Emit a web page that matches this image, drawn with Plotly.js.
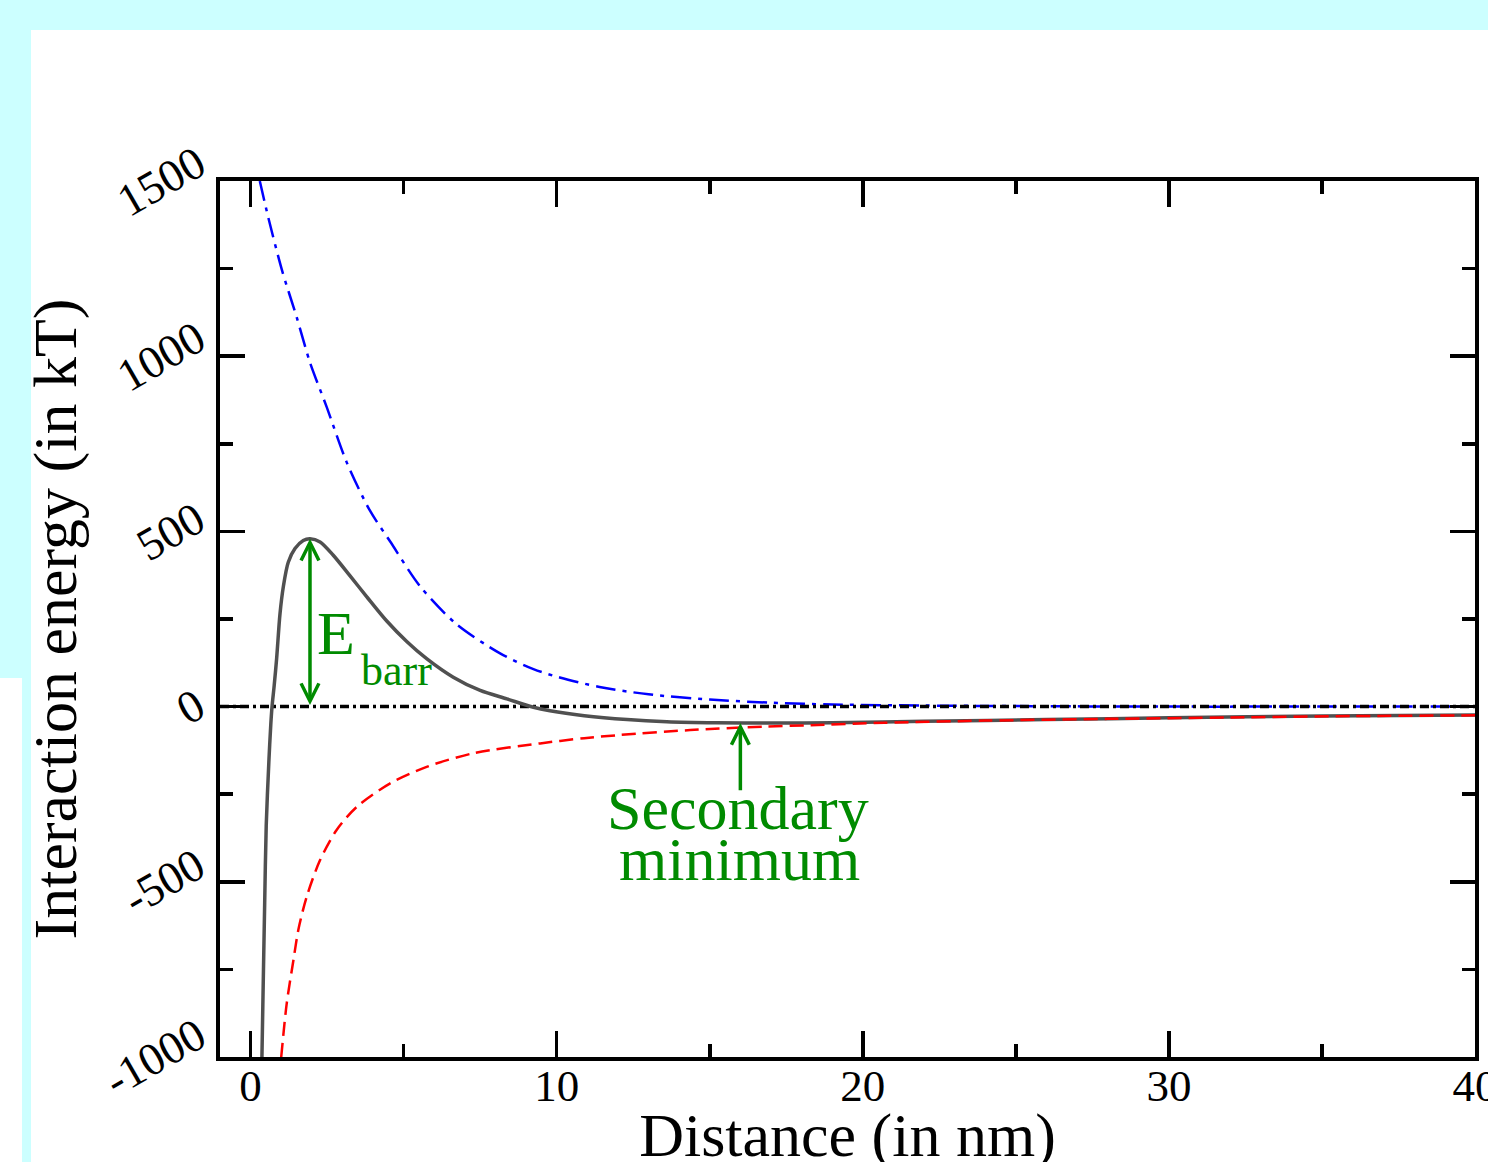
<!DOCTYPE html>
<html>
<head>
<meta charset="utf-8">
<script src="https://cdn.plot.ly/plotly-3.0.1.min.js"></script>
<style>
  html, body { margin: 0; padding: 0; background: #ffffff; }
  #wrap { position: relative; width: 1488px; height: 1162px; overflow: hidden; background: #ffffff; }
  .band { position: absolute; background: #ccffff; }
  #chart { position: absolute; left: 0; top: 0; width: 1488px; height: 1170px; }
</style>
</head>
<body>
<div id="wrap">
  <div class="band" style="left:0;top:0;width:1488px;height:30px;"></div>
  <div class="band" style="left:0;top:0;width:31px;height:678px;"></div>
  <div class="band" style="left:22px;top:678px;width:9px;height:484px;"></div>
  <div id="chart"></div>
</div>
<script>
// ---- data ----
const repulsiveX = [0.3, 0.58, 1.02, 1.51, 1.94, 2.49, 3.14, 3.9, 4.56, 5.54, 6.73, 8.15, 9.24, 10.1, 11.4, 13.0, 15.0, 17.0, 19.0, 22, 26, 30, 35, 40];
const repulsiveY = [1500, 1395, 1247, 1110, 982, 854, 697, 559, 471, 343, 235, 152, 107, 83, 56, 35, 20, 11, 6, 3, 1, 0, 0, 0];

const attractiveX = [1.0, 1.18, 1.4, 1.56, 1.83, 2.27, 2.81, 3.47, 4.56, 5.75, 7.28, 9.46, 10.9, 12.07, 14.36, 16.75, 18.3, 20.7, 24, 28, 32, 36, 40];
const attractiveY = [-1000, -847, -723, -637, -543, -438, -352, -286, -219, -172, -133, -105, -90, -81, -67, -57, -53, -46, -40, -35, -31, -27, -25];

const totalX = [0.37, 0.40, 0.46, 0.51, 0.60, 0.66, 0.70, 0.77, 0.85, 0.96, 1.07, 1.23, 1.45, 1.72, 1.94, 2.27, 2.7, 3.25, 3.79, 4.44, 5.1, 5.75, 6.62, 7.5, 8.37, 9.24, 9.78, 10.9, 12.3, 13.6, 15.2, 17, 19, 22, 26, 30, 35, 40];
const totalY = [-1000, -850, -560, -340, -150, -50, 0, 60, 137, 265, 343, 412, 451, 474, 479, 470, 432, 373, 314, 245, 186, 137, 84, 46, 22, -2, -12, -26, -37, -43, -46, -47, -46, -42, -37, -32, -27, -24];

const zeroX = [-1, 40];
const zeroY = [0, 0];

const xTickVals = [0, 10, 20, 30, 40];
const xTickText = ["0", "10", "20", "30", "40"];
const yTickVals = [-1000, -500, 0, 500, 1000, 1500];
const yTickText = ["-1000", "-500", "0", "500", "1000", "1500"];
const yMinorVals = [-750, -250, 250, 750, 1250];
const xMinorVals = [5, 15, 25, 35];

const barrierX = 1.94, barrierTop = 479, barrierBottom = 0;
const secMinX = 16.0, secMinTip = -47, secMinTail = -243;

const FONT = "Liberation Serif, Times New Roman, serif";
const GREEN = "#008b00";

const traces = [
  { x: repulsiveX, y: repulsiveY, mode: "lines", line: { color: "#0000ff", width: 2.5, dash: "20px,7px,4px,7px", shape: "spline", smoothing: 0.8 }, hoverinfo: "skip" },
  { x: zeroX, y: zeroY, mode: "lines", line: { color: "#000000", width: 3.5, dash: "9px,4px,3px,4px" }, hoverinfo: "skip" },
  { x: totalX, y: totalY, mode: "lines", line: { color: "#505050", width: 3.5, shape: "spline", smoothing: 0.8 }, hoverinfo: "skip" },
  { x: attractiveX, y: attractiveY, mode: "lines", line: { color: "#ff0000", width: 2.5, dash: "14px,7px", shape: "spline", smoothing: 0.8 }, hoverinfo: "skip" }
];

// rotated y tick labels, centred on their tick like the reference
const yLabelAnnotations = yTickVals.map((v, i) => ({
  x: 0, xref: "paper", xanchor: "right", xshift: -4,
  y: v, yref: "y", yanchor: "middle",
  text: yTickText[i], textangle: -30, showarrow: false,
  font: { family: FONT, size: 46, color: "#000" }
}));

const layout = {
  width: 1488, height: 1170,
  margin: { l: 220, r: 13, t: 181, b: 113 },
  paper_bgcolor: "rgba(0,0,0,0)",
  plot_bgcolor: "#ffffff",
  showlegend: false,
  font: { family: FONT, color: "#000000" },
  xaxis: {
    range: [-1, 40], tickmode: "array", tickvals: xTickVals, ticktext: xTickText,
    ticks: "inside", ticklen: 26, tickwidth: 3.5, tickcolor: "#000",
    showline: true, linewidth: 4, linecolor: "#000", mirror: "allticks",
    showgrid: false, zeroline: false,
    ticklabeloverflow: "allow", ticklabelstandoff: -14,
    tickfont: { family: FONT, size: 45, color: "#000" },
    minor: { tickmode: "array", tickvals: xMinorVals, ticks: "inside", ticklen: 13, tickwidth: 3.5, tickcolor: "#000", showgrid: false },
    title: { text: "Distance (in nm)", font: { family: FONT, size: 62, color: "#000" }, standoff: 8 },
    automargin: false
  },
  yaxis: {
    range: [-1000, 1500], tickmode: "array", tickvals: yTickVals, ticktext: yTickText,
    ticks: "inside", ticklen: 25, tickwidth: 3.5, tickcolor: "#000",
    showline: true, linewidth: 4, linecolor: "#000", mirror: "allticks",
    showgrid: false, zeroline: false, showticklabels: false,
    minor: { tickmode: "array", tickvals: yMinorVals, ticks: "inside", ticklen: 13, tickwidth: 3.5, tickcolor: "#000", showgrid: false },
    title: { text: "Interaction energy (in kT)", font: { family: FONT, size: 62, color: "#000" }, standoff: 120 },
    automargin: false
  },
  annotations: [
    { x: barrierX, y: barrierTop, ax: barrierX, ay: barrierBottom, xref: "x", yref: "y", axref: "x", ayref: "y",
      text: "", showarrow: true, arrowside: "end+start", arrowhead: 5, startarrowhead: 5, arrowsize: 1, startarrowsize: 1,
      arrowwidth: 3.5, arrowcolor: GREEN, standoff: 0, startstandoff: 0 },
    { x: secMinX, y: secMinTip, ax: secMinX, ay: secMinTail, xref: "x", yref: "y", axref: "x", ayref: "y",
      text: "", showarrow: true, arrowhead: 5, arrowsize: 1, arrowwidth: 3.5, arrowcolor: GREEN, standoff: 0 },
    { x: 2.1, y: 312, xref: "x", yref: "y", xanchor: "left", yanchor: "top", showarrow: false,
      text: "E", font: { family: FONT, size: 62, color: GREEN } },
    { x: 3.54, y: 179, xref: "x", yref: "y", xanchor: "left", yanchor: "top", showarrow: false,
      text: "barr", font: { family: FONT, size: 44, color: GREEN } },
    { x: 15.93, y: -290, xref: "x", yref: "y", xanchor: "center", yanchor: "middle", showarrow: false,
      text: "Secondary", font: { family: FONT, size: 62, color: GREEN } },
    { x: 15.96, y: -436, xref: "x", yref: "y", xanchor: "center", yanchor: "middle", showarrow: false,
      text: "minimum", font: { family: FONT, size: 62, color: GREEN } }
  ].concat(yLabelAnnotations)
};

Plotly.newPlot("chart", traces, layout, { staticPlot: true, displayModeBar: false });
</script>
</body>
</html>
